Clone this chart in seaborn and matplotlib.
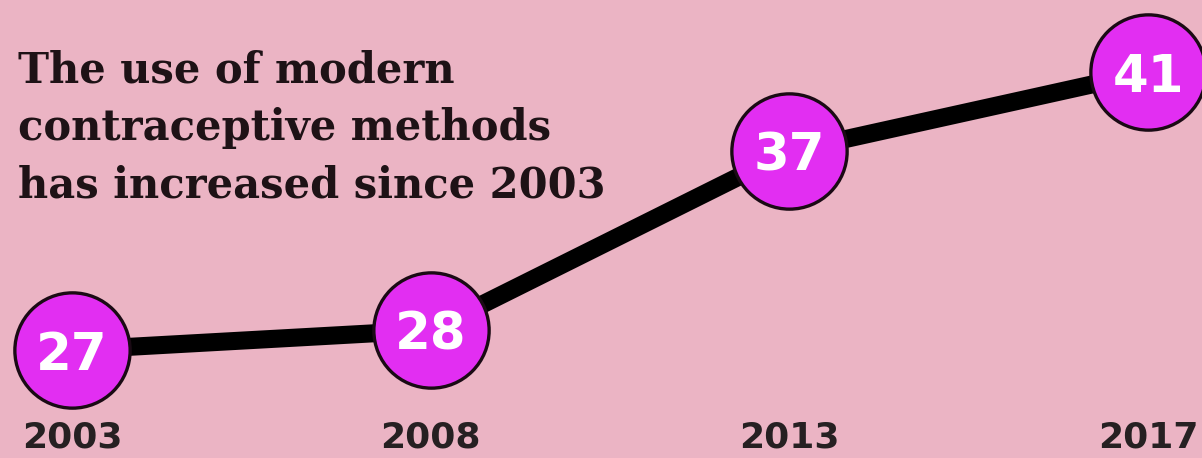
import matplotlib
matplotlib.use("Agg")
import matplotlib.pyplot as plt
import matplotlib.transforms as mtransforms
import seaborn as sns
import pandas as pd

years = ["2003", "2008", "2013", "2017"]
values = [27, 28, 37, 41]
note_lines = ["The use of modern", "contraceptive methods", "has increased since 2003"]

BG = "#EBB4C4"
MAG = "#E22EF2"

sns.set_theme(style="white")
plt.rcParams["font.family"] = ["DejaVu Sans"]

df = pd.DataFrame({"pos": range(len(years)), "value": values, "year": years})

fig = plt.figure(figsize=(12.02, 4.58), dpi=100)
fig.patch.set_facecolor(BG)
ax = fig.add_axes([0, 0, 1, 1])
ax.set_facecolor(BG)

sns.lineplot(data=df, x="pos", y="value", ax=ax, color="black", linewidth=13,
             marker="o", markersize=83, markerfacecolor=MAG,
             markeredgecolor="#1a0a14", markeredgewidth=2.4, solid_capstyle="butt")

for _, r in df.iterrows():
    ax.text(r["pos"], r["value"], str(r["value"]), color="white", fontsize=37,
            fontweight="heavy", ha="center", va="center_baseline", zorder=5)

trans = mtransforms.blended_transform_factory(ax.transData, ax.transAxes)
for _, r in df.iterrows():
    ax.text(r["pos"], 0.045, r["year"], transform=trans, color="#262022", fontsize=26,
            fontweight="bold", ha="center", va="center")

for i, line in enumerate(note_lines):
    ax.text(0.015, 0.845 - i * 0.125, line, transform=ax.transAxes, color="#1e1216",
            fontsize=30, fontweight="bold", family=["DejaVu Serif"],
            ha="left", va="center")

ax.set_xlim(-0.2007, 3.1505)
ax.set_ylim(21.56, 44.63)
ax.axis("off")

fig.savefig("out.png", dpi=100, facecolor=BG)
